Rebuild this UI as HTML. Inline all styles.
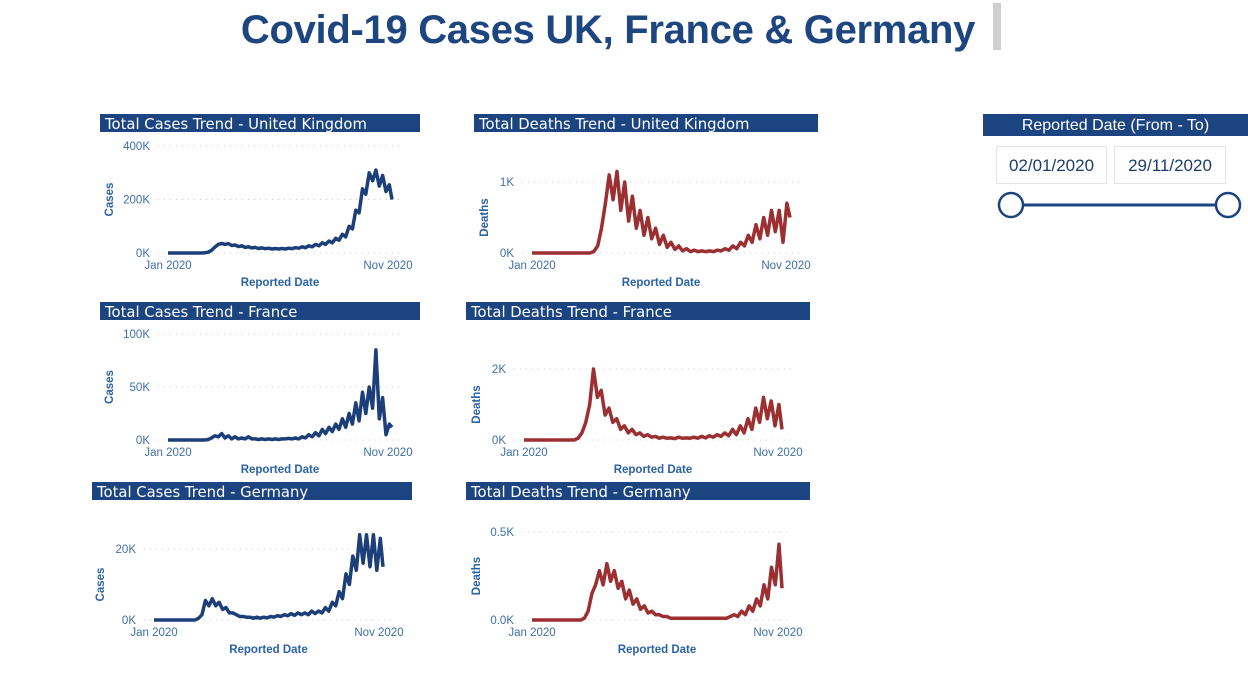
<!DOCTYPE html>
<html><head><meta charset="utf-8">
<style>
body{margin:0;width:1248px;height:698px;background:#fff;overflow:hidden;font-family:"Liberation Sans",sans-serif;position:relative}
.abs{position:absolute}
#title{left:0;width:1216px;top:8px;text-align:center;font-size:40px;font-weight:bold;color:#1d4580;letter-spacing:-0.3px}
.date-box{position:absolute;top:146px;height:38px;border:1px solid #e4e4e4;box-sizing:border-box;font-size:17px;color:#1d3c6e;line-height:37px;text-align:center}
</style></head><body>
<div id="title" class="abs">Covid-19 Cases UK, France &amp; Germany</div>
<div class="abs" style="left:993px;top:3px;width:8px;height:47px;background:#cfcfcf"></div>
<div class="abs" style="left:983px;top:114px;width:265px;height:22px;background:#1b4480;color:#fff;font-size:16px;line-height:23px;text-align:center">Reported Date (From - To)</div>
<div class="date-box" style="left:996px;width:111px">02/01/2020</div>
<div class="date-box" style="left:1114px;width:112px">29/11/2020</div>
<svg class="abs" style="left:0;top:0" width="1248" height="698" id="main">
<line x1="1011" y1="205" x2="1228" y2="205" stroke="#1b4480" stroke-width="3"/>
<circle cx="1011" cy="205" r="12" fill="#fff" stroke="#1b4480" stroke-width="2.5"/>
<circle cx="1228" cy="205" r="12" fill="#fff" stroke="#1b4480" stroke-width="2.5"/>
</svg>
<script>
// days sampled every 5 days from 2 Jan 2020
const days = Array.from({length:68},(_, i)=>Math.min(i*5,334));
const ukCases = [0,0,0,0,0,0,0,0,0,0,0,1,3,10,22,32,36,32,35,28,30,24,27,21,23,19,21,17,19,16,18,15,17,15,17,15,18,16,20,18,23,20,27,23,32,27,38,32,45,38,55,48,70,60,100,90,160,150,240,220,300,270,310,250,290,230,255,200];
const ukDeaths = [0,0,0,0,0,0,0,0,0,0,0,0,0,0,0,0,0.02,0.1,0.35,0.7,1.1,0.75,1.15,0.6,1.0,0.45,0.8,0.35,0.6,0.25,0.5,0.2,0.35,0.12,0.25,0.08,0.15,0.05,0.1,0.03,0.06,0.02,0.04,0.02,0.03,0.02,0.03,0.02,0.04,0.03,0.06,0.04,0.1,0.06,0.15,0.1,0.25,0.15,0.4,0.2,0.5,0.25,0.6,0.3,0.6,0.15,0.7,0.5];
const frCases = [0,0,0,0,0,0,0,0,0,0,0,0,0.5,2,4,3,6,2,4,1,3,1,2,1,3,1,1,0.5,1,0.5,1,0.5,1,0.5,1,1,1.5,1,2,1,3,2,5,3,7,4,10,6,12,8,15,10,20,12,25,15,35,18,45,25,50,30,85,20,40,5,15,12];
const frDeaths = [0,0,0,0,0,0,0,0,0,0,0,0,0,0,0.05,0.2,0.5,1.0,2.0,1.2,1.4,0.7,0.9,0.5,0.6,0.3,0.4,0.2,0.3,0.15,0.2,0.1,0.15,0.08,0.1,0.05,0.08,0.05,0.06,0.04,0.08,0.05,0.06,0.05,0.08,0.05,0.1,0.06,0.12,0.08,0.15,0.1,0.2,0.12,0.3,0.15,0.4,0.2,0.6,0.3,0.9,0.5,1.2,0.6,1.1,0.4,1.0,0.3];
const deCases = [0,0,0,0,0,0,0,0,0,0,0,0,0,0.5,1.5,5.5,4,6,4,5,3,3.5,2,2,1.5,1,1,0.8,0.8,0.5,0.8,0.5,0.8,0.6,1,0.8,1.2,1,1.5,1.2,1.8,1.3,2,1.5,2,1.5,2.5,1.8,2.5,2,3.5,2.5,5,4,8,6,13,10,18,14,24,16,24,15,24,14,23,15];
const deDeaths = [0,0,0,0,0,0,0,0,0,0,0,0,0,0,0.01,0.05,0.15,0.2,0.28,0.2,0.32,0.22,0.28,0.18,0.22,0.12,0.17,0.09,0.12,0.06,0.08,0.04,0.05,0.03,0.03,0.02,0.02,0.01,0.01,0.01,0.01,0.01,0.01,0.01,0.01,0.01,0.01,0.01,0.01,0.01,0.01,0.01,0.01,0.02,0.03,0.02,0.05,0.03,0.08,0.05,0.12,0.08,0.2,0.12,0.3,0.2,0.43,0.18];
const xTickLabels = ["Jan 2020","Nov 2020"];
const ukCaseTicks=[0,200,400], ukCaseTickLabels=["0K","200K","400K"];
const ukDeathTicks=[0,1], ukDeathTickLabels=["0K","1K"];
const frCaseTicks=[0,50,100], frCaseTickLabels=["0K","50K","100K"];
const frDeathTicks=[0,2], frDeathTickLabels=["0K","2K"];
const deCaseTicks=[0,20], deCaseTickLabels=["0K","20K"];
const deDeathTicks=[0,0.5], deDeathTickLabels=["0.0K","0.5K"];

const NS="http://www.w3.org/2000/svg";
const svg=document.getElementById('main');
function mk(tag,attrs,parent){const e=document.createElementNS(NS,tag);for(const k in attrs)e.setAttribute(k,attrs[k]);(parent||svg).appendChild(e);return e;}

const charts=[
 {key:'uk-cases',title:'Total Cases Trend - United Kingdom',hx:100,hw:320,hy:114,vals:ukCases,ticks:ukCaseTicks,tl:ukCaseTickLabels,ymax:400,yTop:146,y0:253,x0:168,x1:392,gx0:158,gx1:400,lblR:150,ytx:109,ytitle:'Cases',color:'#1c3f7a'},
 {key:'uk-deaths',title:'Total Deaths Trend - United Kingdom',hx:474,hw:344,hy:114,vals:ukDeaths,ticks:ukDeathTicks,tl:ukDeathTickLabels,ymax:1,yTop:182,y0:253,x0:532,x1:790,gx0:522,gx1:800,lblR:514,ytx:484,ytitle:'Deaths',color:'#9b2f32'},
 {key:'fr-cases',title:'Total Cases Trend - France',hx:100,hw:320,hy:302,vals:frCases,ticks:frCaseTicks,tl:frCaseTickLabels,ymax:100,yTop:334,y0:440,x0:168,x1:392,gx0:158,gx1:400,lblR:150,ytx:109,ytitle:'Cases',color:'#1c3f7a'},
 {key:'fr-deaths',title:'Total Deaths Trend - France',hx:466,hw:344,hy:302,vals:frDeaths,ticks:frDeathTicks,tl:frDeathTickLabels,ymax:2,yTop:369,y0:440,x0:524,x1:782,gx0:514,gx1:792,lblR:506,ytx:476,ytitle:'Deaths',color:'#9b2f32'},
 {key:'de-cases',title:'Total Cases Trend - Germany',hx:92,hw:320,hy:482,vals:deCases,ticks:deCaseTicks,tl:deCaseTickLabels,ymax:20,yTop:549,y0:620,x0:154,x1:383,gx0:144,gx1:392,lblR:136,ytx:100,ytitle:'Cases',color:'#1c3f7a'},
 {key:'de-deaths',title:'Total Deaths Trend - Germany',hx:466,hw:344,hy:482,vals:deDeaths,ticks:deDeathTicks,tl:deDeathTickLabels,ymax:0.5,yTop:532,y0:620,x0:532,x1:782,gx0:522,gx1:792,lblR:514,ytx:476,ytitle:'Deaths',color:'#9b2f32'}
];
const tickColor='#3f6fa8', axisTitleColor='#2a62a8';
charts.forEach(c=>{
  const g=mk('g',{});
  
  
  const xs=d=>c.x0+(d/334)*(c.x1-c.x0);
  const ys=v=>c.y0-(v/c.ymax)*(c.y0-c.yTop);
  const hdr=mk('rect',{x:c.hx,y:c.hy,width:c.hw,height:18,fill:'#1b4480'},g);
  
  
  const ht=mk('text',{x:c.hx+5,y:c.hy+15,fill:'#fff','font-size':'14.8','font-family':'DejaVu Sans, Liberation Sans, sans-serif'},g);
  ht.textContent=c.title;
  
  
  c.ticks.forEach((t,i)=>{
    const y=ys(t);
    const gl=mk('line',{x1:c.gx0,x2:c.gx1,y1:y,y2:y,stroke:'#c8c8c8','stroke-width':1,'stroke-dasharray':'1 5'},g);
    
    
    const tl=mk('text',{x:c.lblR,y:y+4,'text-anchor':'end',fill:tickColor,'font-size':'11.5'},g);
    tl.textContent=c.tl[i];
    
    
  });
  [0,1].forEach(i=>{
    const t=mk('text',{x:i?c.x1-4:c.x0,y:c.y0+16,'text-anchor':'middle',fill:tickColor,'font-size':'11.5'},g);
    t.textContent=xTickLabels[i];
    
    
  });
  const xt=mk('text',{x:(c.x0+c.x1)/2,y:c.y0+33,'text-anchor':'middle',fill:axisTitleColor,'font-size':'11.5','font-weight':'bold'},g);
  xt.textContent='Reported Date';
  
  
  const yc=(c.yTop+c.y0)/2;
  const yt=mk('text',{x:c.ytx,y:yc,'text-anchor':'middle',fill:axisTitleColor,'font-size':'11.5','font-weight':'bold',transform:`rotate(-90 ${c.ytx} ${yc})`,dy:'4'},g);
  yt.textContent=c.ytitle;
  
  
  const pts=c.vals.map((v,i)=>xs(days[i]).toFixed(1)+','+ys(v).toFixed(1)).join(' ');
  const pl=mk('polyline',{points:pts,fill:'none',stroke:c.color,'stroke-width':3.5,'stroke-linejoin':'round'},g);
  
  
});
</script>
</body></html>
